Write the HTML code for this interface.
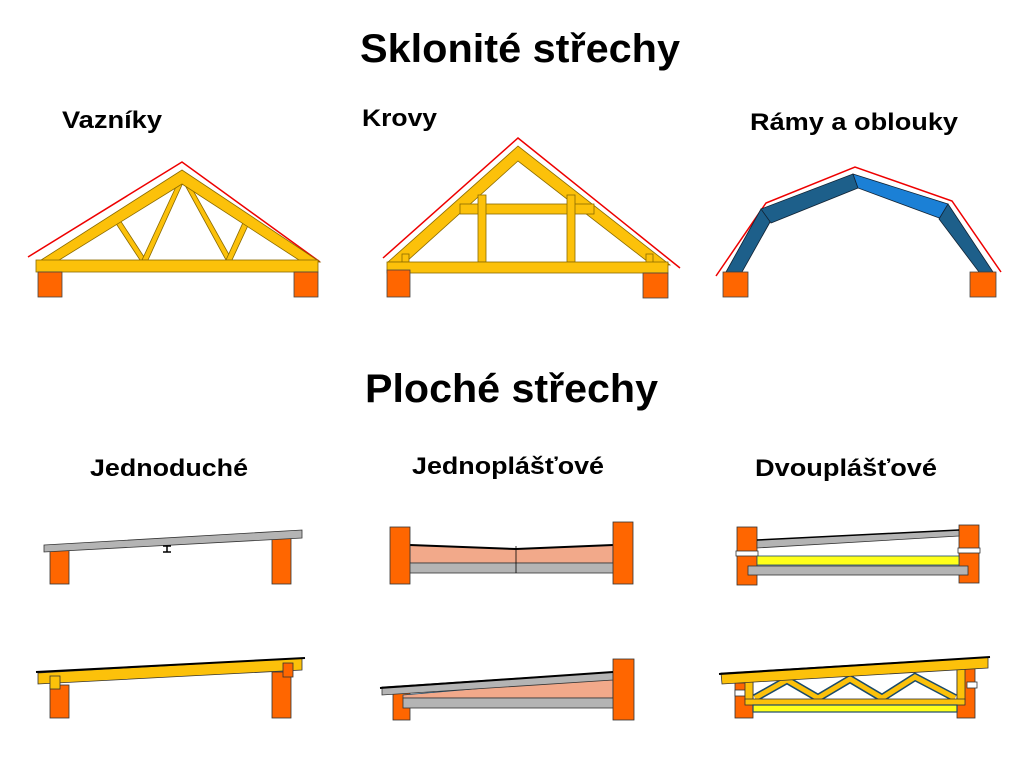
<!DOCTYPE html>
<html><head><meta charset="utf-8"><style>
html,body{margin:0;padding:0;background:#fff;}
svg{display:block;font-family:"Liberation Sans",sans-serif;font-weight:bold;}
</style></head><body>
<svg width="1024" height="767" viewBox="0 0 1024 767" xmlns="http://www.w3.org/2000/svg">
<g fill="#000">
<text x="360" y="62" font-size="40" textLength="320" lengthAdjust="spacingAndGlyphs">Sklonité střechy</text>
<text x="365" y="402" font-size="40" textLength="293" lengthAdjust="spacingAndGlyphs">Ploché střechy</text>
<text x="62" y="128" font-size="24" textLength="100" lengthAdjust="spacingAndGlyphs">Vazníky</text>
<text x="362" y="126" font-size="24" textLength="75" lengthAdjust="spacingAndGlyphs">Krovy</text>
<text x="750" y="130" font-size="24" textLength="208" lengthAdjust="spacingAndGlyphs">Rámy a oblouky</text>
<text x="90" y="476" font-size="24" textLength="158" lengthAdjust="spacingAndGlyphs">Jednoduché</text>
<text x="412" y="474" font-size="24" textLength="192" lengthAdjust="spacingAndGlyphs">Jednoplášťové</text>
<text x="755" y="476" font-size="24" textLength="182" lengthAdjust="spacingAndGlyphs">Dvouplášťové</text>
</g>

<!-- Vazníky -->
<g stroke="#8a6a00" stroke-width="0.8" fill="#fcc10a">
<polyline points="28,257 182,162 320,262" fill="none" stroke="#e00" stroke-width="1.5"/>
<polygon points="115,222 120,220 146,260 140,260"/>
<polygon points="181,176 186,176 148,260 142,260"/>
<polygon points="180,176 185,176 232,260 226,260"/>
<polygon points="246,216 251,219 232,260 226,260"/>
<polygon points="38,262 182,170 320,262 302,262 182,184 56,262"/>
<rect x="36" y="260" width="282" height="12"/>
</g>
<g fill="#ff6600" stroke="#444" stroke-width="0.8">
<rect x="38" y="272" width="24" height="25"/><rect x="294" y="272" width="24" height="25"/>
</g>

<!-- Krovy -->
<g stroke="#8a6a00" stroke-width="0.8" fill="#fcc10a">
<polyline points="383,258 518,138 680,268" fill="none" stroke="#e00" stroke-width="1.5"/>
<polygon points="388,262 518,146 670,265 652,265 518,161 406,262"/>
<rect x="460" y="204" width="134" height="10"/>
<rect x="478" y="195" width="8" height="67"/><rect x="567" y="195" width="8" height="67"/>
<rect x="402" y="254" width="7" height="8"/><rect x="646" y="254" width="7" height="9"/>
<rect x="387" y="262" width="281" height="11"/>
</g>
<g fill="#ff6600" stroke="#444" stroke-width="0.8">
<rect x="387" y="270" width="23" height="27"/><rect x="643" y="273" width="25" height="25"/>
</g>

<!-- Rámy -->
<polyline points="716,276 766,203 855,167 952,201 1001,272" fill="none" stroke="#e00" stroke-width="1.5"/>
<g stroke="#123" stroke-width="0.8">
<polygon points="726,272 761,209 774,215 742,272" fill="#1d5f8a"/>
<polygon points="761,209 853,174 858,188 771,223" fill="#1d5f8a"/>
<polygon points="853,174 948,204 942,219 858,188" fill="#1b80d6"/>
<polygon points="948,204 993,272 979,272 939,219" fill="#1d5f8a"/>
</g>
<g fill="#ff6600" stroke="#444" stroke-width="0.8">
<rect x="723" y="272" width="25" height="25"/><rect x="970" y="272" width="26" height="25"/>
</g>

<!-- Jednoduché 1 -->
<g stroke="#333" stroke-width="0.8">
<rect x="50" y="547" width="19" height="37" fill="#ff6600"/>
<rect x="272" y="537" width="19" height="47" fill="#ff6600"/>
<polygon points="44,545 302,530 302,538 44,552" fill="#b4b4b4"/>
</g>
<path d="M163,546h8M167,546v6M163,552h8" stroke="#000" stroke-width="1.5" fill="none"/>

<!-- Jednoduché 2 -->
<g stroke="#333" stroke-width="0.8">
<rect x="50" y="685" width="19" height="33" fill="#ff6600"/>
<rect x="272" y="672" width="19" height="46" fill="#ff6600"/>
<polygon points="38,673 302,658 302,670 38,684" fill="#fcc10a"/>
<rect x="50" y="676" width="10" height="13" fill="#fcc10a"/>
<rect x="283" y="663" width="10" height="14" fill="#ff6600"/>
</g>
<line x1="36" y1="672" x2="305" y2="658" stroke="#000" stroke-width="2"/>

<!-- Jednoplášťové 1 -->
<g stroke="#333" stroke-width="0.8">
<polygon points="410,545 516,549 613,545 613,563 410,563" fill="#f2a98a" stroke="#1a4a6a"/>
<line x1="410" y1="545" x2="516" y2="549" stroke="#000" stroke-width="2"/>
<line x1="516" y1="549" x2="613" y2="545" stroke="#000" stroke-width="2"/>
<rect x="400" y="563" width="222" height="10" fill="#b4b4b4"/>
<line x1="516" y1="546" x2="516" y2="573" stroke="#000"/>
<rect x="390" y="527" width="20" height="57" fill="#ff6600"/>
<rect x="613" y="522" width="20" height="62" fill="#ff6600"/>
</g>

<!-- Jednoplášťové 2 -->
<g stroke="#333" stroke-width="0.8">
<rect x="393" y="690" width="17" height="30" fill="#ff6600"/>
<polygon points="403,695 613,677 613,698 403,698" fill="#f2a98a" stroke="#1a4a6a"/>
<polygon points="382,687 613,672 613,680 382,695" fill="#b4b4b4"/>
<rect x="403" y="698" width="219" height="10" fill="#b4b4b4"/>
<rect x="613" y="659" width="21" height="61" fill="#ff6600"/>
</g>
<line x1="380" y1="688" x2="613" y2="672" stroke="#000" stroke-width="2"/>

<!-- Dvouplášťové 1 -->
<g stroke="#333" stroke-width="0.8">
<rect x="737" y="527" width="20" height="58" fill="#ff6600"/>
<rect x="959" y="525" width="20" height="58" fill="#ff6600"/>
<rect x="736" y="551" width="22" height="5" fill="#fff"/>
<rect x="958" y="548" width="22" height="5" fill="#fff"/>
<polygon points="757,540 959,530 959,536 757,548" fill="#b4b4b4"/>
<rect x="757" y="556" width="202" height="9" fill="#ffff1a" stroke="#1a4a6a"/>
<rect x="748" y="566" width="220" height="9" fill="#b4b4b4"/>
</g>
<line x1="757" y1="540" x2="959" y2="530" stroke="#000" stroke-width="1.5"/>

<!-- Dvouplášťové 2 -->
<g stroke="#333" stroke-width="0.8">
<rect x="735" y="683" width="18" height="35" fill="#ff6600"/>
<rect x="957" y="668" width="18" height="50" fill="#ff6600"/>
<rect x="735" y="690" width="10" height="6" fill="#fff"/>
<rect x="967" y="682" width="10" height="6" fill="#fff"/>
</g>
<g fill="none" stroke-linecap="butt">
<polyline points="755,698 787,680 818,698 850,679 882,698 915,677 955,698" stroke="#1a4a6a" stroke-width="8"/>
<polyline points="755,698 787,680 818,698 850,679 882,698 915,677 955,698" stroke="#fcc10a" stroke-width="5"/>
</g>
<g stroke="#333" stroke-width="0.8">
<rect x="745" y="682" width="8" height="18" fill="#fcc10a"/>
<rect x="957" y="668" width="8" height="32" fill="#fcc10a"/>
<rect x="745" y="699" width="220" height="6" fill="#fcc10a"/>
<rect x="753" y="705" width="204" height="7" fill="#ffff1a" stroke="#1a4a6a" stroke-width="1.2"/>
<polygon points="721,673 988,657 988,668 722,684" fill="#fcc10a"/>
</g>
<line x1="719" y1="674" x2="990" y2="657" stroke="#000" stroke-width="2"/>
</svg>
</body></html>
